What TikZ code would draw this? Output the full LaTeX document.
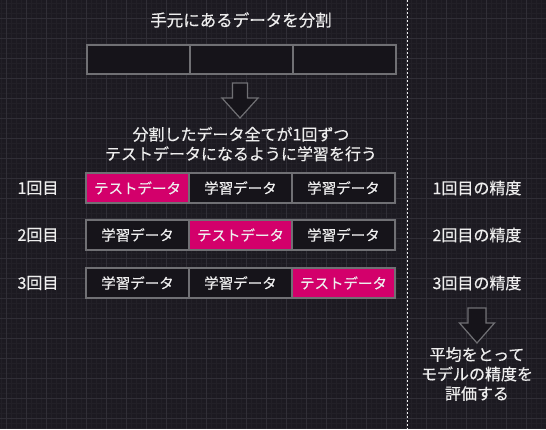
\documentclass[tikz,border=0pt]{standalone}
\usepackage{fontspec}
\setmainfont{Noto Sans CJK JP}[FakeBold=0.35]
\usepackage{xcolor}
\definecolor{bgcol}{HTML}{1C1A21}
\definecolor{gridmajor}{HTML}{302E36}
\definecolor{gridminor}{HTML}{222027}
\definecolor{boxfill}{HTML}{16141A}
\definecolor{boxline}{HTML}{707074}
\definecolor{testpink}{HTML}{D3006B}
\definecolor{txt}{HTML}{EEEEEE}

\begin{document}
\begin{tikzpicture}[x=1pt,y=-1pt,
  box/.style={draw=boxline,fill=boxfill,line width=1.2pt,minimum width=103pt,minimum height=30pt,inner sep=0pt,text=txt,font=\fontsize{14.5}{16}\selectfont},
  testbox/.style={box,fill=testpink},
  lbl/.style={text=txt,font=\fontsize{16}{19.5}\selectfont,align=center},
  blockarrow/.style={draw=boxline,fill=boxfill,line width=1.2pt,line join=miter}]
\fill[bgcol] (0,0) rectangle (546,429);
\useasboundingbox (0,0) rectangle (546,429);
% grid
\foreach \x in {1,6,...,546} {\draw[gridminor,line width=0.5pt] (\x,0)--(\x,429);}
\foreach \y in {3,8,...,429} {\draw[gridminor,line width=0.5pt] (0,\y)--(546,\y);}
\foreach \x in {6,26,...,546} {\draw[gridmajor,line width=1pt] (\x,0)--(\x,429);}
\foreach \y in {18,38,...,429} {\draw[gridmajor,line width=1pt] (0,\y)--(546,\y);}
\draw[txt!70,line width=1pt,dash pattern=on 2pt off 2pt] (407.5,0)--(407.5,429);
% split data
\node[lbl,font=\fontsize{16.5}{19.5}\selectfont] (title) at (241,20) {手元にあるデータを分割};
\foreach \k/\x in {1/138.5,2/241.5,3/344.5} {\node[box,minimum height=29pt] (part\k) at (\x,59.5) {};}
\draw[blockarrow] (232.5,83)--(247.5,83)--(247.5,98)--(258,98)--(240,118)--(222,98)--(232.5,98)--cycle;
\node[lbl] (plan) at (241,144) {分割したデータ全てが1回ずつ\\テストデータになるように学習を行う};
% folds
\foreach \row/\y in {1/188,2/235,3/283} {
  \node[lbl] (run\row) at (38,\y) {{\row}回目};
  \foreach \col/\x in {1/137.5,2/240.5,3/343.5} {
    \ifnum\col=\row \node[testbox] (fold\row\col) at (\x,\y) {テストデータ};
    \else \node[box] (fold\row\col) at (\x,\y) {学習データ};\fi}
  \node[lbl] (acc\row) at (477,\y) {{\row}回目の精度};
}
\draw[blockarrow] (468,308)--(486,308)--(486,323)--(494.5,323)--(477,343)--(459.5,323)--(468,323)--cycle;
\node[lbl] (avg) at (477,374) {平均をとって\\モデルの精度を\\評価する};
\end{tikzpicture}
\end{document}
